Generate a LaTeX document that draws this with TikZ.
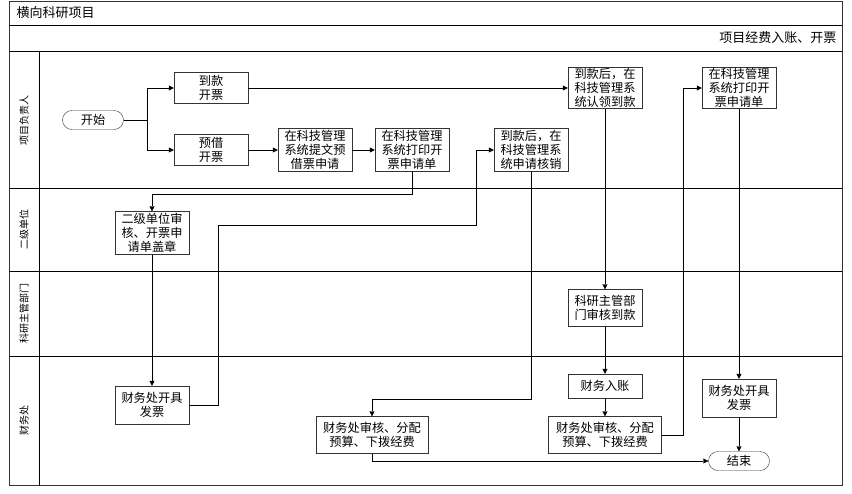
\documentclass[tikz,border=0pt]{standalone}
\usepackage{fontspec}
\setmainfont{Noto Sans CJK SC}
\usetikzlibrary{arrows.meta}
\begin{document}
\begin{tikzpicture}[x=1pt,y=-1pt,
box/.style={draw=black!80,fill=white,minimum width=74pt,minimum height=31pt,inner sep=1pt,align=center,font=\fontsize{12.2}{14}\selectfont},
term/.style={box,minimum width=61pt,minimum height=19pt,rounded corners=9.5pt},
arr/.style={-{Triangle[length=5pt,width=5pt]}},
lane/.style={rotate=90,font=\fontsize{10}{12}\selectfont}]
\useasboundingbox (0,0) rectangle (852,493);
\draw[line width=1pt,black!80] (9,1) rectangle (842,485);
\draw (9,25) -- (842,25) (9,51) -- (842,51) (39,51) -- (39,485);
\draw (9,188) -- (842,188) (9,271) -- (842,271) (9,356) -- (842,356);
\node[anchor=west,font=\fontsize{13}{14}\selectfont] (title) at (13,13) {横向科研项目};
\node[anchor=east,font=\fontsize{13}{14}\selectfont] (sub) at (840,38) {项目经费入账、开票};
\node[lane] (l1) at (24,120) {项目负责人};
\node[lane] (l2) at (24,229) {二级单位};
\node[lane] (l3) at (24,313) {科研主管部门};
\node[lane] (l4) at (24,420) {财务处};
\node[term] (start) at (93,120) {开始};
\node[box] (dkkp) at (211,88) {到款\\开票};
\node[box] (yjkp) at (211,150) {预借\\开票};
\node[box,minimum height=43pt] (tjsq) at (315,150) {在科技管理\\系统提文预\\借票申请};
\node[box,minimum height=43pt] (dy1) at (412,150) {在科技管理\\系统打印开\\票申请单};
\node[box,minimum height=43pt] (hx) at (531,150) {到款后，在\\科技管理系\\统申请核销};
\node[box,minimum height=41pt] (rl) at (605,88) {到款后，在\\科技管理系\\统认领到款};
\node[box,minimum height=41pt] (dy2) at (739,88) {在科技管理\\系统打印开\\票申请单};
\node[box,minimum height=43pt] (ej) at (152,233) {二级单位审\\核、开票申\\请单盖章};
\node[box,minimum height=38pt] (kfb1) at (152,405) {财务处开具\\发票};
\node[box,minimum width=112pt,minimum height=37pt] (sh1) at (372,435) {财务处审核、分配\\预算、下拨经费};
\node[box,minimum height=37pt] (kyzg) at (605,308) {科研主管部\\门审核到款};
\node[box,minimum height=24pt] (rz) at (605,386) {财务入账};
\node[box,minimum width=113pt,minimum height=37pt] (sh2) at (605,435) {财务处审核、分配\\预算、下拨经费};
\node[box,minimum height=38pt] (kfb2) at (739,398) {财务处开具\\发票};
\node[term] (end) at (739,461) {结束};
\coordinate (br) at (147,120);
\coordinate (c1) at (218,225);
\coordinate (c2) at (476,225);
\coordinate (c3) at (531,399);
\coordinate (c4) at (683,435);
\draw (start) -- (br);
\draw[arr] (br) |- (dkkp);
\draw[arr] (br) |- (yjkp);
\draw[arr] (yjkp) -- (tjsq);
\draw[arr] (tjsq) -- (dy1);
\draw[arr] (dkkp) -- (rl);
\draw[arr] (dy1.south) -- ++(0,22) -| (ej.north);
\draw[arr] (ej) -- (kfb1);
\draw[arr] (kfb1.east) -| (c1) -- (c2) |- (hx.west);
\draw[arr] (hx.south) -- (c3) -| (sh1.north);
\draw[arr] (sh1.south) |- (end.west);
\draw[arr] (rl) -- (kyzg);
\draw[arr] (kyzg) -- (rz);
\draw[arr] (rz) -- (sh2);
\draw[arr] (sh2.east) -- (c4) |- (dy2.west);
\draw[arr] (dy2) -- (kfb2);
\draw[arr] (kfb2) -- (end);
\end{tikzpicture}
\end{document}
